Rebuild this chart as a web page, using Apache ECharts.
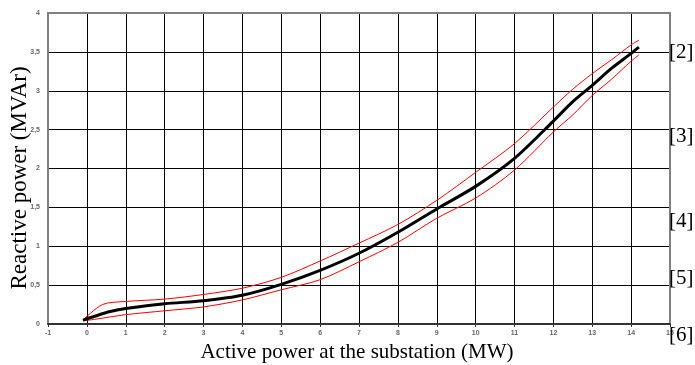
<!DOCTYPE html>
<html>
<head>
<meta charset="utf-8">
<script src="https://cdn.jsdelivr.net/npm/echarts@6/dist/echarts.min.js"></script>
<style>
html,body{margin:0;padding:0;background:#fff;}
#c{width:695px;height:365px;}
</style>
</head>
<body>
<div id="c"></div>
<script>
// Data
var meanX = [-0.1, 0.2, 0.6, 1, 2, 3, 4, 5, 6, 7, 8, 9, 10, 11, 12, 12.5, 13, 13.5, 14, 14.2];
var meanY = [0.05, 0.1, 0.16, 0.2, 0.26, 0.3, 0.37, 0.51, 0.69, 0.91, 1.18, 1.48, 1.77, 2.13, 2.61, 2.86, 3.07, 3.29, 3.48, 3.56];
var upperX = [-0.1, 0.4, 1, 2, 3, 4, 5, 6, 7, 8, 9, 10, 11, 12, 12.5, 13, 13.5, 14, 14.2];
var upperY = [0.05, 0.25, 0.29, 0.32, 0.38, 0.46, 0.6, 0.81, 1.04, 1.28, 1.59, 1.95, 2.32, 2.79, 3.02, 3.22, 3.4, 3.59, 3.65];
var lowerX = [-0.1, 0.2, 1, 2, 3, 4, 5, 6, 7, 8, 9, 10, 11, 12, 12.5, 13, 13.5, 14, 14.2];
var lowerY = [0.04, 0.06, 0.12, 0.17, 0.22, 0.31, 0.44, 0.57, 0.8, 1.05, 1.36, 1.62, 1.98, 2.47, 2.69, 2.94, 3.15, 3.38, 3.46];
var refLabels = ['[2]', '[3]', '[4]', '[5]', '[6]'];
var refLabelY = [53, 137, 222, 279, 336];
var xTitle = 'Active power at the substation (MW)';
var yTitle = 'Reactive power (MVAr)';

function pairs(xs, ys) { return xs.map(function (x, i) { return [x, ys[i]]; }); }

var chart = echarts.init(document.getElementById('c'));
var serif = '"Liberation Serif","Times New Roman",serif';
var graphics = refLabels.map(function (t, i) {
  return { type: 'text', left: 669, top: refLabelY[i] - 11, z: 10,
    style: { text: t, font: '21px ' + serif, fill: '#000' } };
});
graphics.push({ type: 'text', x: 357, y: 352, z: 10,
  style: { text: xTitle, font: '21px ' + serif, fill: '#000', align: 'center', verticalAlign: 'middle' } });
graphics.push({ type: 'text', x: 20, y: 178, rotation: Math.PI / 2, z: 10,
  style: { text: yTitle, font: '23px ' + serif, fill: '#000', align: 'center', verticalAlign: 'middle' } });

var frameAxis = {
  axisLine: { show: true, onZero: false, lineStyle: { color: '#808080', width: 2 } },
  axisTick: { show: false }, axisLabel: { show: false }, splitLine: { show: false }
};

chart.setOption({
  animation: false,
  backgroundColor: '#fff',
  grid: { left: 48, right: 25, top: 13, bottom: 41 },
  xAxis: [{
    type: 'value', min: -1, max: 15, interval: 1,
    axisLine: { show: true, onZero: false, lineStyle: { color: '#333', width: 2 } },
    axisTick: { show: true, length: 3, lineStyle: { color: '#333' } },
    axisLabel: { color: '#666', fontSize: 7, fontWeight: 'bold', fontFamily: 'Liberation Sans, Arial', margin: 6 },
    splitLine: { show: true, lineStyle: { color: '#000', width: 1 } }
  }, Object.assign({ type: 'value', position: 'top', min: -1, max: 15, interval: 1 }, frameAxis)],
  yAxis: [{
    type: 'value', min: 0, max: 4, interval: 0.5,
    axisLine: { show: true, onZero: false, lineStyle: { color: '#808080', width: 2 } },
    axisTick: { show: false },
    axisLabel: { color: '#666', fontSize: 7, fontWeight: 'bold', fontFamily: 'Liberation Sans, Arial', margin: 8,
      formatter: function (v) { return String(v).replace('.', ','); } },
    splitLine: { show: true, lineStyle: { color: '#000', width: 1 } }
  }, Object.assign({ type: 'value', position: 'right', min: 0, max: 4, interval: 0.5 }, frameAxis)],
  graphic: graphics,
  series: [
    { type: 'line', data: pairs(upperX, upperY), showSymbol: false, smooth: 0.3,
      lineStyle: { color: '#ff0000', width: 1 }, z: 3 },
    { type: 'line', data: pairs(lowerX, lowerY), showSymbol: false, smooth: 0.3,
      lineStyle: { color: '#ff0000', width: 1 }, z: 3 },
    { type: 'line', data: pairs(meanX, meanY), showSymbol: false, smooth: 0.3,
      lineStyle: { color: '#000', width: 3 }, z: 4 }
  ]
});
</script>
</body>
</html>
